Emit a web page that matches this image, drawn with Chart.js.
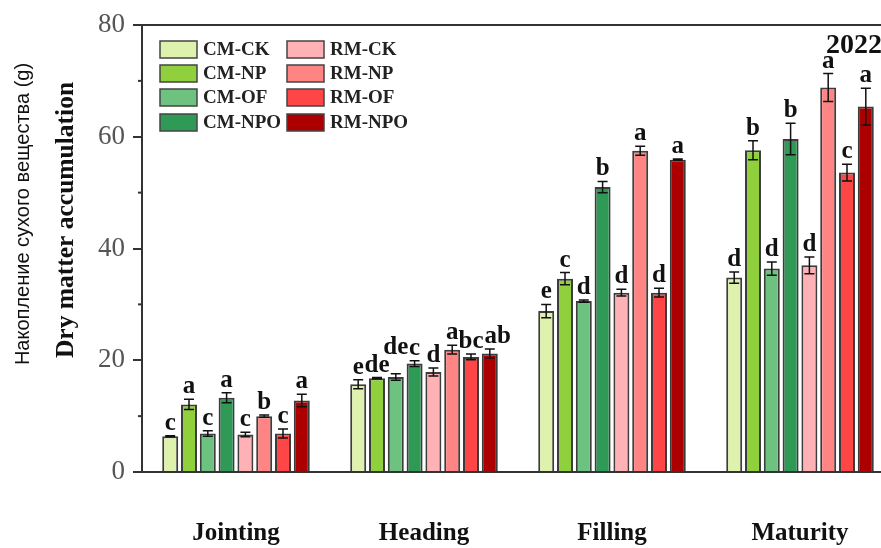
<!DOCTYPE html>
<html>
<head>
<meta charset="utf-8">
<script src="https://cdn.jsdelivr.net/npm/chart.js@4/dist/chart.umd.min.js"></script>
<style>
  html, body { margin: 0; padding: 0; background: #fff; overflow: hidden; }
  #wrap { width: 900px; height: 548px; }
</style>
</head>
<body>
<div id="wrap"><canvas id="c" width="900" height="548"></canvas></div>
<script>
// Growth stages on the x axis
const stages = ['Jointing', 'Heading', 'Filling', 'Maturity'];

// Treatments (legend order: CM column, then RM column)
const treatments = ['CM-CK', 'CM-NP', 'CM-OF', 'CM-NPO', 'RM-CK', 'RM-NP', 'RM-OF', 'RM-NPO'];

// Mean dry matter accumulation (g) per stage
const cmCK  = [6.4, 15.7, 28.8, 34.8];
const cmNP  = [12.1, 16.8, 34.6, 57.6];
const cmOF  = [6.9, 17.0, 30.6, 36.4];
const cmNPO = [13.3, 19.4, 51.0, 59.6];
const rmCK  = [6.7, 17.9, 32.1, 37.0];
const rmNP  = [10.0, 21.9, 57.5, 68.8];
const rmOF  = [6.9, 20.6, 32.1, 53.6];
const rmNPO = [12.8, 21.2, 55.9, 65.4];

// Standard errors
const cmCKErr  = [0.1, 0.8, 1.2, 1.0];
const cmNPErr  = [0.9, 0.1, 1.1, 1.7];
const cmOFErr  = [0.5, 0.6, 0.2, 1.2];
const cmNPOErr = [0.9, 0.5, 1.0, 2.8];
const rmCKErr  = [0.4, 0.7, 0.6, 1.5];
const rmNPErr  = [0.2, 0.8, 0.8, 2.5];
const rmOFErr  = [0.8, 0.5, 0.8, 1.5];
const rmNPOErr = [1.1, 0.8, 0.1, 3.3];

// Significance letters
const cmCKSig  = ['c', 'e', 'e', 'd'];
const cmNPSig  = ['a', 'de', 'c', 'b'];
const cmOFSig  = ['c', 'de', 'd', 'd'];
const cmNPOSig = ['a', 'c', 'b', 'b'];
const rmCKSig  = ['c', 'd', 'd', 'd'];
const rmNPSig  = ['b', 'a', 'a', 'a'];
const rmOFSig  = ['c', 'bc', 'd', 'c'];
const rmNPOSig = ['a', 'ab', 'a', 'a'];

// y-axis ticks
const yTicks = [0, 20, 40, 60, 80];
const yMinorTicks = [10, 30, 50, 70];

const values  = [cmCK, cmNP, cmOF, cmNPO, rmCK, rmNP, rmOF, rmNPO];
const errors  = [cmCKErr, cmNPErr, cmOFErr, cmNPOErr, rmCKErr, rmNPErr, rmOFErr, rmNPOErr];
const letters = [cmCKSig, cmNPSig, cmOFSig, cmNPOSig, rmCKSig, rmNPSig, rmOFSig, rmNPOSig];
const colors  = ['#def2ae', '#90d03c', '#6cc27e', '#2e9a55', '#ffb2b6', '#ff8585', '#ff4646', '#ac0000'];

const SERIF = '"Liberation Serif", "Times New Roman", serif';
const SANS = '"Liberation Sans", Arial, sans-serif';

const datasets = treatments.map((name, i) => ({
  label: name,
  data: values[i],
  errors: errors[i],
  letters: letters[i],
  backgroundColor: colors[i],
  borderColor: '#3c3c3c',
  borderWidth: 2,
  categoryPercentage: 0.8,
  barPercentage: 0.85
}));

// Error bars and significance letters above each bar
const annotate = {
  id: 'annotate',
  afterDatasetsDraw(chart) {
    const ctx = chart.ctx;
    const y = chart.scales.y;
    const metas = chart.data.datasets.map((d, i) => chart.getDatasetMeta(i));
    ctx.save();
    // error bars
    ctx.strokeStyle = '#111';
    ctx.lineWidth = 1.5;
    chart.data.datasets.forEach((ds, i) => {
      metas[i].data.forEach((bar, j) => {
        const v = ds.data[j], e = ds.errors[j];
        const yt = y.getPixelForValue(v + e), yb = y.getPixelForValue(v - e);
        const x = bar.x;
        ctx.beginPath();
        ctx.moveTo(x, yt); ctx.lineTo(x, yb);
        ctx.moveTo(x - 5, yt); ctx.lineTo(x + 5, yt);
        ctx.moveTo(x - 5, yb); ctx.lineTo(x + 5, yb);
        ctx.stroke();
      });
    });
    // letters, nudged apart when neighbours collide
    ctx.font = 'bold 25px ' + SERIF;
    ctx.fillStyle = '#111';
    ctx.textAlign = 'center';
    ctx.textBaseline = 'alphabetic';
    const asc = 17;
    const nStage = chart.data.labels.length;
    const nSet = chart.data.datasets.length;
    for (let j = 0; j < nStage; j++) {
      const boxes = [];
      for (let i = 0; i < nSet; i++) {
        const ds = chart.data.datasets[i];
        const txt = ds.letters[j];
        const w = ctx.measureText(txt).width;
        let cx = metas[i].data[j].x;
        let base = y.getPixelForValue(ds.data[j] + ds.errors[j]) - 6;
        if (i > 0) {
          const p = boxes[i - 1];
          const overlapX = (p.cx + p.w / 2) - (cx - w / 2);
          const overlapY = (base - asc) < p.base && base > (p.base - asc);
          if (overlapX > 4 && overlapY) {
            if (i === nSet - 1) cx += overlapX + 1;
            else base = p.base - asc - 1;
          }
        }
        boxes.push({ cx, w, base });
        ctx.fillText(txt, cx, base);
      }
    }
    ctx.restore();
  }
};

// Frame line, minor ticks, legend, axis titles and year
const decor = {
  id: 'decor',
  afterDraw(chart) {
    const ctx = chart.ctx;
    const a = chart.chartArea;
    const y = chart.scales.y;
    ctx.save();
    ctx.strokeStyle = '#333';
    ctx.lineWidth = 2;
    ctx.beginPath();
    ctx.moveTo(a.left, a.top);
    ctx.lineTo(chart.width, a.top);
    ctx.stroke();
    yMinorTicks.forEach(v => {
      const py = y.getPixelForValue(v);
      ctx.beginPath();
      ctx.moveTo(a.left - 4, py);
      ctx.lineTo(a.left, py);
      ctx.stroke();
    });

    // legend in two columns
    const colX = [160, 287];
    const rowY = [41, 65, 89, 114];
    ctx.font = 'bold 19px ' + SERIF;
    ctx.textAlign = 'left';
    ctx.textBaseline = 'middle';
    chart.data.datasets.forEach((ds, i) => {
      const col = Math.floor(i / 4), row = i % 4;
      const bx = colX[col], by = rowY[row];
      ctx.fillStyle = ds.backgroundColor;
      ctx.fillRect(bx, by, 37, 17);
      ctx.strokeStyle = '#444';
      ctx.lineWidth = 1.5;
      ctx.strokeRect(bx, by, 37, 17);
      ctx.fillStyle = '#222';
      ctx.fillText(ds.label, bx + 43, by + 9);
    });

    // axis titles
    ctx.fillStyle = '#111';
    ctx.textAlign = 'center';
    ctx.save();
    ctx.translate(66, 220);
    ctx.rotate(-Math.PI / 2);
    ctx.font = 'bold 25.5px ' + SERIF;
    ctx.fillText('Dry matter accumulation', 0, 0);
    ctx.restore();
    ctx.save();
    ctx.translate(23, 214);
    ctx.rotate(-Math.PI / 2);
    ctx.font = '20px ' + SANS;
    ctx.fillText('Накопление сухого вещества (g)', 0, 0);
    ctx.restore();

    // year tag
    ctx.font = 'bold 28px ' + SERIF;
    ctx.textAlign = 'left';
    ctx.fillText('2022', 826, 46);
    ctx.restore();
  }
};

new Chart(document.getElementById('c'), {
  type: 'bar',
  data: { labels: stages, datasets },
  options: {
    responsive: false,
    animation: false,
    devicePixelRatio: 1,
    layout: { padding: { top: 25, right: 6, left: 0, bottom: 0 } },
    plugins: { legend: { display: false }, tooltip: { enabled: false } },
    scales: {
      x: {
        grid: { display: false, drawTicks: false },
        border: { display: true, color: '#333', width: 2 },
        ticks: { font: { family: SERIF, size: 25, weight: 'bold' }, color: '#111', padding: 47 },
        afterFit(s) { s.height = 76; }
      },
      y: {
        min: 0, max: 80,
        afterBuildTicks(s) { s.ticks = yTicks.map(v => ({ value: v })); },
        ticks: { font: { family: SERIF, size: 27 }, color: '#555', padding: 8 },
        grid: { drawOnChartArea: false, drawTicks: true, tickLength: 9, color: '#333', lineWidth: 2 },
        border: { display: true, color: '#333', width: 2 },
        afterFit(s) { s.width = 142; }
      }
    }
  },
  plugins: [annotate, decor]
});
</script>
</body>
</html>
